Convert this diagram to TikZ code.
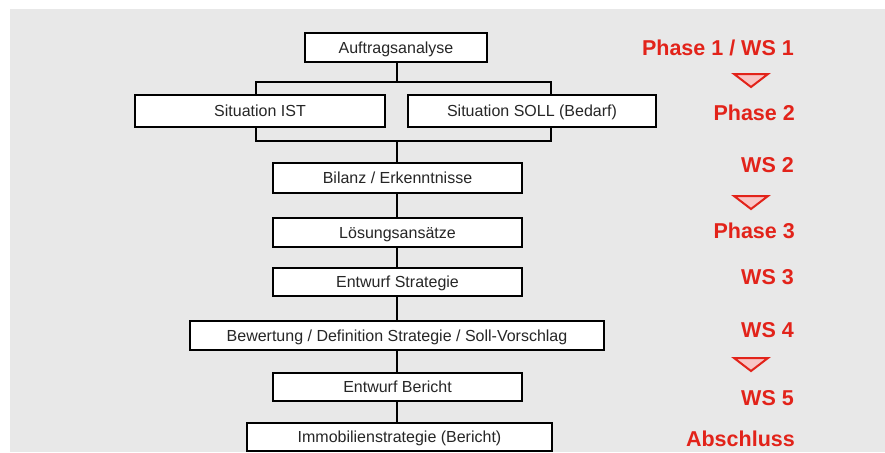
\documentclass[tikz,border=0pt]{standalone}
\usepackage{fontspec}
\setmainfont{Liberation Sans}
\definecolor{bggray}{HTML}{E8E8E8}
\definecolor{txtgray}{HTML}{262626}
\definecolor{phred}{HTML}{E2231A}
\definecolor{tripink}{HTML}{F7C6C6}
\begin{document}
\begin{tikzpicture}[x=1pt,y=-1pt,
  stepbox/.style={draw=black,line width=2.4pt,fill=white,text=txtgray,
    minimum height=29pt,inner sep=0pt,text height=11.5pt,text depth=0.5pt,
    font=\fontsize{16}{19}\selectfont},
  conn/.style={draw=black,line width=2.2pt},
  plabel/.style={anchor=base east,text=phred,inner sep=0pt,
    font=\fontsize{21.5}{24}\selectfont\bfseries},
  tri/.style={draw=phred,fill=tripink,line width=2pt,line join=miter}
]
\useasboundingbox (0,0) rectangle (885,452);
\fill[bggray] (10,9) rectangle (885,452);

\coordinate (bt) at (397,82);
\coordinate (btl) at (256,82);
\coordinate (btr) at (551,82);
\coordinate (bb) at (397,141);
\coordinate (bbl) at (256,141);
\coordinate (bbr) at (551,141);

\node[stepbox,minimum width=182pt] (a) at (396,47.5) {Auftragsanalyse};
\node[stepbox,minimum width=250pt,minimum height=32pt] (ist) at (260,111) {Situation IST};
\node[stepbox,minimum width=248pt,minimum height=32pt] (soll) at (532,111) {Situation SOLL (Bedarf)};
\node[stepbox,minimum width=249pt,minimum height=30pt] (bil) at (397.5,178) {Bilanz / Erkenntnisse};
\node[stepbox,minimum width=249pt] (loe) at (397.5,232.5) {Lösungsansätze};
\node[stepbox,minimum width=249pt,minimum height=28pt] (ens) at (397.5,282) {Entwurf Strategie};
\node[stepbox,minimum width=414pt] (bew) at (397,335.5) {Bewertung / Definition Strategie / Soll-Vorschlag};
\node[stepbox,minimum width=249pt,minimum height=28pt] (enb) at (397.5,387) {Entwurf Bericht};
\node[stepbox,minimum width=305pt,minimum height=28pt] (imm) at (399.5,437) {Immobilienstrategie (Bericht)};

\draw[conn] (a.south -| bt) -- (bt);
\draw[conn,line cap=rect] (btl) -- (btr);
\draw[conn] (btl) -- (btl |- ist.north);
\draw[conn] (btr) -- (btr |- soll.north);
\draw[conn] (bbl |- ist.south) -- (bbl);
\draw[conn] (bbr |- soll.south) -- (bbr);
\draw[conn,line cap=rect] (bbl) -- (bbr);
\draw[conn] (bb) -- (bb |- bil.north);
\draw[conn] (bil.south -| bb) -- (loe.north -| bb);
\draw[conn] (loe.south -| bb) -- (ens.north -| bb);
\draw[conn] (ens.south -| bb) -- (bew.north -| bb);
\draw[conn] (bew.south -| bb) -- (enb.north -| bb);
\draw[conn] (enb.south -| bb) -- (imm.north -| bb);

\node[plabel] (p1) at (794,55.5) {Phase 1 / WS 1};
\node[plabel] (p2) at (795,120) {Phase 2};
\node[plabel] (w2) at (794,172) {WS 2};
\node[plabel] (p3) at (795,238) {Phase 3};
\node[plabel] (w3) at (794,284) {WS 3};
\node[plabel] (w4) at (794,337) {WS 4};
\node[plabel] (w5) at (794,405) {WS 5};
\node[plabel] (ab) at (795,446) {Abschluss};

\draw[tri] (734,74) -- (768,74) -- (751,87) -- cycle;
\draw[tri] (734,196) -- (768,196) -- (751,209) -- cycle;
\draw[tri] (734,358) -- (768,358) -- (751,371) -- cycle;
\end{tikzpicture}
\end{document}
